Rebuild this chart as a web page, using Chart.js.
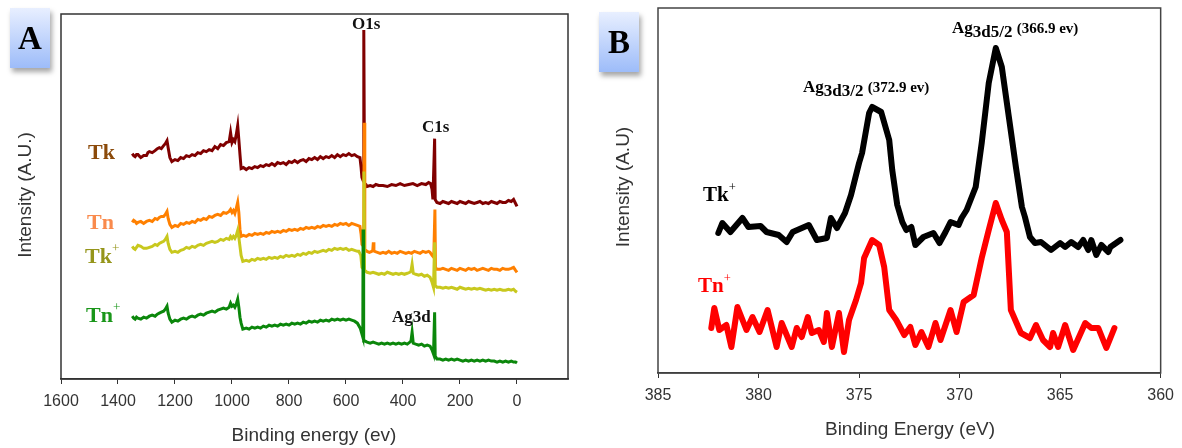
<!DOCTYPE html>
<html lang="en">
<head>
<meta charset="UTF-8">
<title>XPS survey and Ag3d spectra</title>
<script src="https://cdn.jsdelivr.net/npm/chart.js@4/dist/chart.umd.min.js"></script>
<style>
  body { margin: 0; background: #fff; }
  #page { position: relative; width: 1182px; height: 448px; overflow: hidden; font-family: "Liberation Sans", Arial, sans-serif; }
  canvas { position: absolute; top: 0; }
  .lbl { position: absolute; font-family: "Liberation Serif", "Times New Roman", serif; font-weight: bold; line-height: 1; white-space: nowrap; }
  .lbl sup { font-size: 60%; font-weight: normal; vertical-align: 0; position: relative; top: -0.8em; }
  .ytitle { position: absolute; font-size: 19px; color: #333; white-space: nowrap; transform: translate(-50%, -50%) rotate(-90deg); }
  .xtitle { position: absolute; font-size: 19px; color: #333; white-space: nowrap; transform: translate(-50%, -50%); }
  .badge { position: absolute; width: 40px; height: 60px; background: linear-gradient(#e8efff, #9dbcf9); box-shadow: 2px 4px 5px rgba(0,0,0,0.35);
           font-family: "Liberation Serif", serif; font-weight: bold; font-size: 33px; text-align: center; line-height: 60px; }
  .peak { position: absolute; font-family: "Liberation Serif", serif; font-weight: bold; font-size: 17px; white-space: nowrap; line-height: 1; }
  .peak sub { font-size: 17px; vertical-align: 0; position: relative; top: 4px; }
  .peak small { font-size: 15px; }
</style>
</head>
<body>
<div id="page">
  <canvas id="chartA" width="580" height="448" style="left:0"></canvas>
  <canvas id="chartB" width="602" height="448" style="left:580px"></canvas>

  <div class="badge" style="left:10px;top:8px">A</div>
  <div class="badge" style="left:599px;top:12px">B</div>

  <div class="ytitle" style="left:25px;top:195px">Intensity (A.U.)</div>
  <div class="xtitle" style="left:314px;top:435px">Binding energy (ev)</div>
  <div class="ytitle" style="left:623px;top:187px">Intensity (A.U)</div>
  <div class="xtitle" style="left:910px;top:429px">Binding Energy (eV)</div>

  <div class="lbl" style="left:88px;top:141px;font-size:22px;color:#8b4a0a">Tk</div>
  <div class="lbl" style="left:87px;top:211px;font-size:22px;color:#f98a4c">Tn</div>
  <div class="lbl" style="left:85px;top:245px;font-size:22px;color:#95951a">Tk<sup>+</sup></div>
  <div class="lbl" style="left:86px;top:304px;font-size:22px;color:#1a961a">Tn<sup>+</sup></div>
  <div class="lbl" style="left:352px;top:15px;font-size:17px;color:#111">O1s</div>
  <div class="lbl" style="left:422px;top:118px;font-size:17px;color:#111">C1s</div>
  <div class="lbl" style="left:392px;top:308px;font-size:17px;color:#111">Ag3d</div>

  <div class="lbl" style="left:703px;top:184px;font-size:21px;color:#000">Tk<sup>+</sup></div>
  <div class="lbl" style="left:698px;top:275px;font-size:21px;color:#ff0000">Tn<sup>+</sup></div>
  <div class="peak" style="left:803px;top:78px">Ag<sub>3d3/2</sub> <small>(372.9 ev)</small></div>
  <div class="peak" style="left:952px;top:19px">Ag<sub>3d5/2</sub> <small>(366.9 ev)</small></div>
</div>

<script>
// Panel A - survey spectra, [binding energy (eV), intensity (a.u.)]
const tkSurvey = [[1350,226],[1345,224],[1340,223],[1335,225],[1330,225],[1320,222],[1310,224],[1300,224],[1295,227],[1290,228],[1280,227],[1270,229],[1262,231],[1255,232],[1248,231],[1240,234],[1234,236],[1228,239],[1224,232],[1218,222],[1211,218],[1200,220],[1190,219],[1180,222],[1170,221],[1160,224],[1150,223],[1140,225],[1130,224],[1120,227],[1110,226],[1100,229],[1090,228],[1080,230],[1070,229],[1060,233],[1050,231],[1040,235],[1030,234],[1020,237],[1010,238],[1005,247],[1000,237],[995,240],[990,238],[985,245],[980,254],[976,240],[972,225],[968,211],[960,212],[950,210],[940,212],[930,211],[920,213],[910,212],[900,214],[890,213],[880,215],[870,214],[860,216],[850,214],[840,217],[830,216],[820,217],[810,215],[800,218],[790,217],[780,219],[770,217],[760,219],[750,220],[740,218],[730,221],[720,220],[710,222],[700,220],[690,223],[680,221],[670,223],[660,222],[650,224],[640,222],[630,225],[620,223],[610,225],[600,224],[590,226],[580,224],[570,225],[560,223],[551,222],[547,212],[544,202],[540,199],[538,198],[537,350],[535,196],[530,195],[526,193],[515,194],[505,193],[495,195],[485,194],[470,194],[455,193],[440,195],[425,194],[410,196],[395,194],[380,195],[365,196],[350,194],[335,196],[320,195],[310,197],[303,196],[298,190],[295,180],[289,241],[287,180],[281,177],[270,176],[260,178],[250,177],[240,176],[230,178],[220,177],[210,176],[200,178],[190,177],[180,176],[170,178],[160,177],[150,176],[140,177],[130,178],[120,176],[110,177],[100,176],[90,178],[80,177],[70,176],[60,178],[50,177],[40,177],[30,179],[20,178],[12,180],[5,176],[0,173]];

const tnSurvey = [[1350,157],[1345,159],[1340,158],[1335,156],[1330,157],[1320,158],[1310,156],[1300,158],[1290,159],[1280,158],[1270,161],[1262,160],[1255,162],[1248,163],[1240,163],[1234,165],[1228,168],[1224,161],[1218,155],[1211,152],[1200,154],[1190,153],[1180,156],[1170,155],[1160,157],[1150,156],[1140,158],[1130,157],[1120,160],[1110,159],[1100,161],[1090,160],[1080,163],[1070,162],[1060,164],[1050,165],[1040,164],[1030,167],[1020,166],[1010,168],[1005,170],[1000,167],[995,169],[990,166],[985,171],[980,177],[976,167],[972,150],[968,143],[960,144],[950,143],[940,145],[930,144],[920,146],[910,145],[900,146],[890,145],[880,147],[870,146],[860,148],[850,147],[840,148],[830,147],[820,149],[810,148],[800,150],[790,149],[780,150],[770,149],[760,151],[750,150],[740,152],[730,151],[720,152],[710,151],[700,153],[690,152],[680,154],[670,153],[660,154],[650,153],[640,155],[630,154],[620,156],[610,155],[600,156],[590,154],[580,156],[570,155],[560,154],[551,153],[547,145],[544,135],[538,133],[536,257],[534,130],[530,129],[526,128],[518,127],[510,128],[506,129],[504,137],[502,129],[500,128],[490,127],[480,126],[470,127],[460,126],[450,128],[440,126],[430,127],[420,126],[410,128],[400,127],[390,126],[380,127],[370,126],[360,128],[350,127],[340,126],[330,128],[320,127],[310,128],[305,127],[298,124],[292,122],[288,170],[286,112],[281,110],[270,110],[260,111],[250,110],[240,109],[230,111],[220,110],[210,109],[200,111],[190,110],[180,109],[170,111],[160,110],[150,111],[140,109],[130,110],[120,111],[110,110],[100,109],[90,111],[80,110],[70,110],[60,109],[50,111],[40,110],[30,110],[20,111],[12,112],[5,109],[0,107]];

const tkPlusSurvey = [[1350,133],[1345,131],[1340,130],[1335,132],[1330,134],[1320,133],[1310,131],[1300,131],[1290,132],[1280,133],[1270,135],[1262,134],[1255,136],[1248,137],[1240,138],[1234,140],[1228,143],[1224,136],[1218,130],[1211,127],[1200,128],[1190,127],[1180,129],[1170,130],[1160,132],[1150,131],[1140,133],[1130,132],[1120,134],[1110,135],[1100,134],[1090,136],[1080,137],[1070,138],[1060,137],[1050,138],[1040,140],[1030,139],[1020,141],[1010,140],[1005,143],[1000,141],[995,143],[990,141],[985,144],[980,149],[976,142],[972,133],[968,124],[962,118],[950,119],[940,118],[930,120],[920,119],[910,121],[900,120],[890,121],[880,120],[870,122],[860,121],[850,122],[840,121],[830,123],[820,122],[810,124],[800,123],[790,124],[780,123],[770,125],[760,124],[750,126],[740,125],[730,127],[720,126],[710,128],[700,127],[690,128],[680,129],[670,128],[660,130],[650,129],[640,131],[630,130],[620,131],[610,130],[600,131],[590,129],[580,130],[570,129],[560,128],[555,128],[548,124],[544,112],[538,110],[537,208],[535,108],[530,108],[526,107],[515,106],[505,107],[495,106],[485,105],[475,106],[465,105],[455,107],[445,106],[435,105],[425,106],[415,105],[405,106],[395,105],[385,106],[376,107],[372,108],[368,115],[364,106],[355,105],[345,104],[335,105],[325,103],[315,104],[305,102],[298,97],[293,92],[289,137],[287,94],[281,92],[270,92],[260,91],[250,92],[240,91],[230,92],[220,91],[210,90],[200,92],[190,91],[180,90],[170,91],[160,90],[150,91],[140,90],[130,91],[120,90],[110,89],[100,90],[90,89],[80,90],[70,89],[60,90],[50,89],[40,89],[30,90],[20,89],[12,90],[5,88],[0,87]];

const tnPlusSurvey = [[1350,63],[1345,61],[1340,60],[1335,62],[1330,61],[1320,60],[1310,62],[1300,61],[1290,63],[1280,64],[1270,63],[1262,65],[1255,66],[1248,67],[1240,68],[1234,70],[1228,73],[1224,66],[1218,60],[1211,57],[1200,59],[1190,58],[1180,60],[1170,61],[1160,60],[1150,62],[1140,63],[1130,62],[1120,64],[1110,65],[1100,64],[1090,66],[1080,67],[1070,68],[1060,67],[1050,69],[1040,70],[1030,71],[1020,70],[1010,72],[1005,76],[1000,73],[995,74],[990,72],[985,75],[980,80],[976,72],[972,62],[968,56],[962,50],[950,51],[940,50],[930,52],[920,51],[910,52],[900,51],[890,53],[880,52],[870,54],[860,53],[850,54],[840,53],[830,55],[820,54],[810,55],[800,54],[790,56],[780,55],[770,56],[760,55],[750,57],[740,56],[730,58],[720,57],[710,58],[700,57],[690,59],[680,58],[670,59],[660,58],[650,60],[640,59],[630,60],[620,59],[610,60],[600,59],[590,60],[580,59],[570,58],[560,56],[550,51],[544,45],[541,42],[540,150],[538,38],[533,38],[526,37],[515,36],[505,37],[495,36],[485,35],[475,36],[465,35],[455,36],[445,35],[435,36],[425,35],[415,36],[405,35],[395,36],[385,35],[376,37],[372,38],[368,47],[364,36],[355,35],[345,34],[335,35],[325,33],[315,34],[305,33],[298,29],[293,25],[289,67],[287,23],[281,20],[270,20],[260,19],[250,20],[240,19],[230,20],[220,19],[210,20],[200,19],[190,18],[180,19],[170,18],[160,19],[150,18],[140,19],[130,18],[120,19],[110,18],[100,19],[90,18],[80,18],[70,17],[60,18],[50,17],[40,18],[30,17],[20,18],[12,17],[5,17],[0,16]];

const ticksA = [1600,1400,1200,1000,800,600,400,200,0];

// Panel B - Ag3d region
const agTkE = [382.0,381.8,381.4,380.8,380.5,379.9,379.6,379.0,378.6,378.3,377.5,377.1,376.6,376.4,376.1,375.7,375.4,375.0,374.85,374.5,374.35,373.9,373.5,373.35,373.1,372.85,372.65,372.4,372.2,371.8,371.3,371.0,370.7,370.45,370.05,369.9,369.65,369.2,368.9,368.55,368.2,367.9,367.55,367.2,366.9,366.75,366.5,366.25,365.95,365.45,365.0,364.75,364.45,364.1,363.85,363.6,363.45,363.2,362.95,362.6,362.5,362.0];
const agTkI = [140,150,141,155,146,147,141,138,131,141,148,133,135,155,145,160,178,210,220,260,266,261,233,203,168,151,143,146,128,136,140,130,141,151,148,155,163,186,230,290,325,306,256,206,166,156,136,130,131,123,130,126,131,126,133,123,133,118,128,121,126,133];

const agTnE = [382.35,382.2,381.95,381.6,381.35,381.05,380.6,380.3,379.95,379.55,379.1,378.85,378.35,378.1,377.85,377.55,377.35,377.0,376.75,376.6,376.35,376.0,375.75,375.5,375.15,374.9,374.75,374.35,374.0,373.75,373.5,373.15,372.75,372.45,372.2,371.9,371.55,371.2,370.95,370.45,370.15,369.8,369.3,368.9,368.55,368.2,367.9,367.65,367.45,366.95,366.5,366.2,365.85,365.5,365.35,365.1,364.75,364.35,363.75,363.45,363.1,362.7,362.3];
const agTnI = [45,65,43,48,26,66,43,56,41,63,26,50,26,45,36,56,40,43,31,60,26,60,21,53,73,90,115,133,128,106,63,53,38,46,28,41,26,50,33,63,41,71,78,115,143,170,153,141,63,40,35,48,33,26,40,26,48,23,50,45,45,25,45];

const ticksB = [385,380,375,370,365,360];

function pairs(list) {
  return list.map(p => ({ x: p[0], y: p[1] }));
}
function pts(xs, ys) {
  return xs.map((x, i) => ({ x: x, y: ys[i] }));
}

const frame = {
  id: 'frame',
  afterDraw(chart, args, opts) {
    const a = chart.chartArea, ctx = chart.ctx;
    ctx.save();
    ctx.strokeStyle = opts.color || '#333';
    ctx.lineWidth = opts.width || 1.5;
    ctx.strokeRect(a.left, a.top, a.right - a.left, a.bottom - a.top);
    ctx.restore();
  }
};

function xScale(min, max, tickList) {
  return {
    type: 'linear', reverse: true, min: min, max: max,
    afterBuildTicks: s => { s.ticks = tickList.map(v => ({ value: v })); },
    afterFit: s => { s.height = 40; },
    ticks: { font: { family: 'Liberation Sans, Arial', size: 16 }, color: '#333', padding: 8, autoSkip: false, maxRotation: 0,
             callback: v => String(v) },
    grid: { drawOnChartArea: false, drawTicks: true, tickLength: 5, color: '#333' },
    border: { color: '#333', width: 1.5 }
  };
}

new Chart('chartA', {
  type: 'line',
  data: {
    datasets: [
      { data: pairs(tnPlusSurvey), borderColor: '#0b870b', borderWidth: 3 },
      { data: pairs(tkPlusSurvey), borderColor: '#c8c81e', borderWidth: 3 },
      { data: pairs(tnSurvey), borderColor: '#ff8000', borderWidth: 3 },
      { data: pairs(tkSurvey), borderColor: '#800000', borderWidth: 3 }
    ]
  },
  options: {
    responsive: false, animation: false,
    layout: { padding: { left: 61, top: 14, right: 12, bottom: 29 } },
    plugins: { legend: { display: false }, tooltip: { enabled: false }, frame: { color: '#333', width: 1.5 } },
    elements: { point: { radius: 0 }, line: { tension: 0 } },
    scales: {
      x: xScale(-179, 1600, ticksA),
      y: { min: 0, max: 366, ticks: { display: false }, grid: { display: false }, border: { display: false }, afterFit: s => { s.width = 0; } }
    }
  },
  plugins: [frame]
});

new Chart('chartB', {
  type: 'line',
  data: {
    datasets: [
      { data: pts(agTnE, agTnI), borderColor: '#ff0000', borderWidth: 6 },
      { data: pts(agTkE, agTkI), borderColor: '#000000', borderWidth: 6 }
    ]
  },
  options: {
    responsive: false, animation: false,
    layout: { padding: { left: 78, top: 8, right: 19, bottom: 35 } },
    plugins: { legend: { display: false }, tooltip: { enabled: false }, frame: { color: '#444', width: 1.5 } },
    elements: { point: { radius: 0 }, line: { tension: 0, borderJoinStyle: 'round', borderCapStyle: 'round' } },
    scales: {
      x: xScale(360, 385, ticksB),
      y: { min: 0, max: 365, ticks: { display: false }, grid: { display: false }, border: { display: false }, afterFit: s => { s.width = 0; } }
    }
  },
  plugins: [frame]
});
</script>
</body>
</html>
